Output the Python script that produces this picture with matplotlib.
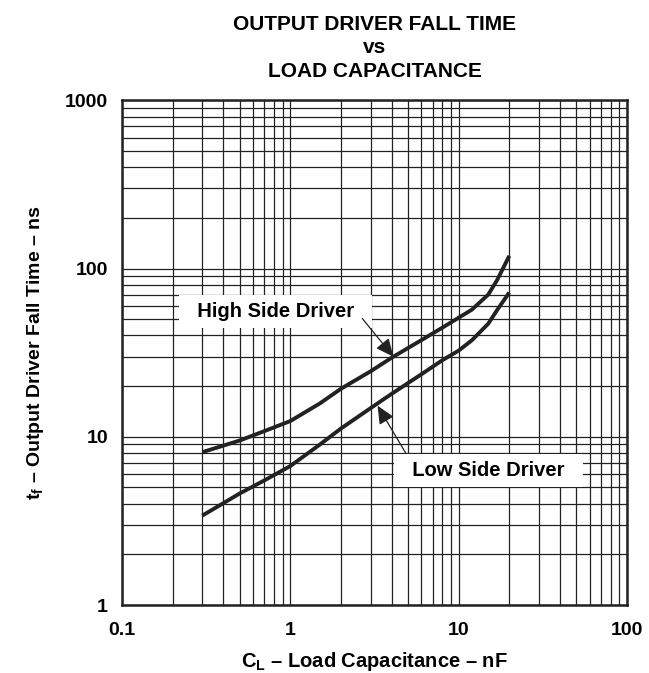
import numpy as np
import matplotlib.pyplot as plt
from matplotlib.ticker import LogLocator, NullFormatter, FixedLocator, FixedFormatter

plt.rcParams['font.family'] = ['Liberation Sans', 'DejaVu Sans']
plt.rcParams['font.weight'] = 'bold'
plt.rcParams['mathtext.fontset'] = 'custom'
plt.rcParams['mathtext.rm'] = 'Liberation Sans:bold'
plt.rcParams['mathtext.bf'] = 'Liberation Sans:bold'
plt.rcParams['mathtext.it'] = 'Liberation Sans:bold'

# Datos
cap_nf = [0.3, 0.5, 0.7, 1, 1.5, 2, 3, 4, 6, 8, 10, 12, 15, 17, 20]
high_side = [8.1, 9.5, 10.8, 12.4, 15.8, 19.3, 24.5, 29.5, 37.5, 44.5, 51, 57, 70, 86, 119]
low_side = [3.4, 4.6, 5.5, 6.7, 9.0, 11.2, 14.8, 18.0, 23.5, 28.5, 32.5, 37.5, 47, 57, 72]

x_ticks = [0.1, 1, 10, 100]
x_labels = ['0.1', '1', '10', '100']
y_ticks = [1, 10, 100, 1000]
y_labels = ['1', '10', '100', '1000']

fig = plt.figure(figsize=(6.49, 6.73), dpi=100)
ax = fig.add_axes([0.188, 0.101, 0.778, 0.750])

ax.plot(cap_nf, high_side, color='#222222', linewidth=2.8, solid_capstyle='butt', zorder=3)
ax.plot(cap_nf, low_side, color='#222222', linewidth=2.8, solid_capstyle='butt', zorder=3)

ax.set_xscale('log')
ax.set_yscale('log')
ax.set_xlim(0.1, 100)
ax.set_ylim(1, 1000)

ax.xaxis.set_major_locator(FixedLocator(x_ticks))
ax.xaxis.set_major_formatter(FixedFormatter(x_labels))
ax.yaxis.set_major_locator(FixedLocator(y_ticks))
ax.yaxis.set_major_formatter(FixedFormatter(y_labels))
ax.xaxis.set_minor_locator(LogLocator(base=10, subs=np.arange(2, 10)))
ax.yaxis.set_minor_locator(LogLocator(base=10, subs=np.arange(2, 10)))
ax.xaxis.set_minor_formatter(NullFormatter())
ax.yaxis.set_minor_formatter(NullFormatter())
ax.tick_params(which='both', length=0, labelsize=14)
ax.tick_params(axis='x', pad=12)
ax.tick_params(axis='y', pad=10)
for lab in ax.get_xticklabels() + ax.get_yticklabels():
    lab.set_fontweight('bold')

ax.grid(True, which='both', color='#222222', linewidth=0.9)
for s in ax.spines.values():
    s.set_linewidth(1.8)
    s.set_color('#222222')

ax.set_title('OUTPUT DRIVER FALL TIME\nvs\nLOAD CAPACITANCE', fontsize=15,
             fontweight='bold', linespacing=1.3, pad=17)
ax.set_xlabel(r'C$_\mathbf{L}$ – Load Capacitance – nF', fontsize=14.5, fontweight='bold', labelpad=8)
ax.set_ylabel(r't$_\mathbf{f}$ – Output Driver Fall Time – ns', fontsize=14, fontweight='bold', labelpad=14)

bbox = dict(boxstyle='square,pad=0.35', facecolor='white', edgecolor='none')
arrow = dict(arrowstyle='-|>,head_length=1.1,head_width=0.5', color='#222222',
             linewidth=0.9, shrinkA=0, shrinkB=0)

ax.text(0.815, 55.5, '  High Side Driver  ', fontsize=14.5, fontweight='bold',
        ha='center', va='center', bbox=bbox, zorder=4)
ax.annotate('', xy=(4.1, 29.9), xytext=(2.68, 50.4), arrowprops=arrow, zorder=4)

ax.text(15.1, 6.28, '  Low Side Driver  ', fontsize=14.5, fontweight='bold',
        ha='center', va='center', bbox=bbox, zorder=4)
ax.annotate('', xy=(3.3, 15.3), xytext=(4.84, 8.03), arrowprops=arrow, zorder=4)

fig.savefig('out.png', dpi=100)
